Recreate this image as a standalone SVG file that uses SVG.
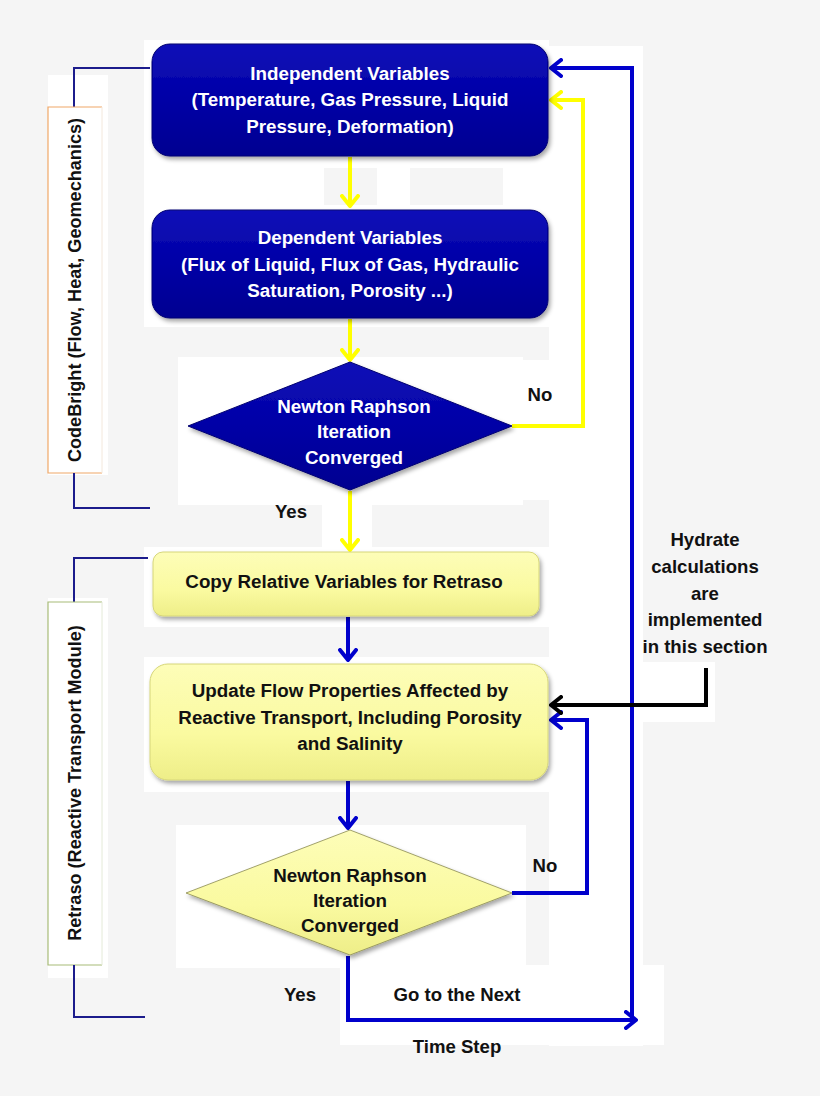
<svg xmlns="http://www.w3.org/2000/svg" width="820" height="1096" viewBox="0 0 820 1096">
  <defs>
    <linearGradient id="gBlue" x1="0" y1="0" x2="0" y2="1">
      <stop offset="0" stop-color="#1010b8"/>
      <stop offset="0.5" stop-color="#0000a6"/>
      <stop offset="1" stop-color="#000090"/>
    </linearGradient>
    <linearGradient id="gYellow" x1="0" y1="0" x2="0" y2="1">
      <stop offset="0" stop-color="#fdfdb8"/>
      <stop offset="0.6" stop-color="#fafaa0"/>
      <stop offset="1" stop-color="#eeee88"/>
    </linearGradient>
    <filter id="shadow" x="-10%" y="-10%" width="120%" height="130%">
      <feDropShadow dx="2" dy="3" stdDeviation="2" flood-color="#000" flood-opacity="0.35"/>
    </filter>
    <marker id="aBlue" viewBox="0 0 14 20" refX="12" refY="10" markerWidth="14" markerHeight="20" markerUnits="userSpaceOnUse" orient="auto">
      <path d="M2,2 L12,10 L2,18" fill="none" stroke="#0000cc" stroke-width="4" stroke-linecap="round" stroke-linejoin="round"/>
    </marker>
    <marker id="aYellow" viewBox="0 0 14 20" refX="12" refY="10" markerWidth="14" markerHeight="20" markerUnits="userSpaceOnUse" orient="auto">
      <path d="M2,2 L12,10 L2,18" fill="none" stroke="#ffff00" stroke-width="4" stroke-linecap="round" stroke-linejoin="round"/>
    </marker>
    <marker id="aBlack" viewBox="0 0 14 20" refX="12" refY="10" markerWidth="14" markerHeight="20" markerUnits="userSpaceOnUse" orient="auto">
      <path d="M2,2 L12,10 L2,18" fill="none" stroke="#000000" stroke-width="4" stroke-linecap="round" stroke-linejoin="round"/>
    </marker>
  </defs>
  <style>
    text { font-family: "Liberation Sans", Arial, sans-serif; font-weight: bold; text-anchor: middle; }
    .w { fill: #ffffff; font-size: 18.8px; }
    .k { fill: #111111; font-size: 18.8px; }
    .lbl { fill: #111111; font-size: 18.6px; }
    .rot { fill: #111111; font-size: 18.1px; }
    .blueBox { fill: url(#gBlue); stroke: #000070; stroke-width: 1; filter: url(#shadow); }
    .yelBox { fill: url(#gYellow); stroke: #d6d67a; stroke-width: 1; filter: url(#shadow); }
    .cb { fill: none; stroke: #0000cc; stroke-width: 4; }
    .cy { fill: none; stroke: #ffff00; stroke-width: 4; }
    .ck { fill: none; stroke: #000000; stroke-width: 4; }
    .brk { fill: none; stroke: #1c1c8c; stroke-width: 2; }
    .bg { fill: #ffffff; }
  </style>

  <rect width="820" height="1096" fill="#f5f5f5"/>
  <g id="background-patches">
    <rect class="bg" x="144" y="40" width="405" height="128"/>
    <rect class="bg" x="144" y="168" width="180" height="40"/>
    <rect class="bg" x="377" y="168" width="33" height="40"/>
    <rect class="bg" x="503" y="168" width="46" height="40"/>
    <rect class="bg" x="144" y="205" width="405" height="122"/>
    <rect class="bg" x="178" y="357" width="345" height="148"/>
    <rect class="bg" x="322" y="500" width="50" height="60"/>
    <rect class="bg" x="144" y="547" width="405" height="80"/>
    <rect class="bg" x="144" y="657" width="410" height="135"/>
    <rect class="bg" x="176" y="825" width="350" height="143"/>
    <rect class="bg" x="340" y="965" width="324" height="80"/>
    <rect class="bg" x="549" y="46" width="94" height="1000"/>
    <rect class="bg" x="523" y="360" width="26" height="140"/>
    <rect class="bg" x="643" y="662" width="72" height="60"/>
    <rect class="bg" x="48" y="75" width="60" height="400"/>
    <rect class="bg" x="48" y="598" width="60" height="380"/>
  </g>

  <g id="group-codebright">
    <path class="brk" d="M150,68 H74 V107"/>
    <path d="M102,107 H48 V473 H102" fill="none" stroke="#f0a868" stroke-width="1.2"/>
    <path d="M102,107 V473" fill="none" stroke="#f3e8dc" stroke-width="1"/>
    <text class="rot" transform="translate(81,290) rotate(-90)">CodeBright (Flow, Heat, Geomechanics)</text>
    <path class="brk" d="M74,473 V508 H150"/>
  </g>

  <g id="group-retraso">
    <path class="brk" d="M148,558 H74 V602"/>
    <path d="M102,602 H48 V965 H102" fill="none" stroke="#a8bc78" stroke-width="1.2"/>
    <path d="M102,602 V965" fill="none" stroke="#e4ead8" stroke-width="1"/>
    <text class="rot" transform="translate(81,783) rotate(-90)">Retraso (Reactive Transport Module)</text>
    <path class="brk" d="M74,965 V1017 H145"/>
  </g>

  <g id="connectors">
    <path class="cy" d="M350,157 V206" marker-end="url(#aYellow)"/>
    <path class="cy" d="M350,319 V360" marker-end="url(#aYellow)"/>
    <path class="cy" d="M350,491 V550" marker-end="url(#aYellow)"/>
    <path class="cy" d="M512,426 H583 V100 H551" marker-end="url(#aYellow)"/>
    <path class="cb" d="M348,617 V660" marker-end="url(#aBlue)"/>
    <path class="cb" d="M348,781 V828" marker-end="url(#aBlue)"/>
    <path class="cb" d="M512,893 H587 V720 H551" marker-end="url(#aBlue)"/>
    <path class="cb" d="M632,1020 V68 H551" marker-end="url(#aBlue)"/>
    <path class="cb" d="M348,956 V1020 H636" marker-end="url(#aBlue)"/>
    <path class="ck" d="M706,668 V705 H551" marker-end="url(#aBlack)"/>
  </g>

  <g id="node-independent">
    <rect class="blueBox" x="152" y="44" width="396" height="112" rx="18"/>
    <text class="w" x="350" y="80">Independent Variables</text>
    <text class="w" x="350" y="106">(Temperature, Gas Pressure, Liquid</text>
    <text class="w" x="350" y="133">Pressure, Deformation)</text>
  </g>

  <g id="node-dependent">
    <rect class="blueBox" x="152" y="210" width="396" height="108" rx="18"/>
    <text class="w" x="350" y="244">Dependent Variables</text>
    <text class="w" x="350" y="271">(Flux of Liquid, Flux of Gas, Hydraulic</text>
    <text class="w" x="350" y="297">Saturation, Porosity ...)</text>
  </g>

  <g id="node-nr1">
    <polygon points="188,426 350,362 512,426 350,490" fill="url(#gBlue)" stroke="#000070" stroke-width="1" filter="url(#shadow)"/>
    <text class="w" x="354" y="413">Newton Raphson</text>
    <text class="w" x="354" y="438">Iteration</text>
    <text class="w" x="354" y="464">Converged</text>
  </g>
  <text class="lbl" x="540" y="401">No</text>
  <text class="lbl" x="291" y="518">Yes</text>

  <g id="node-copy">
    <rect class="yelBox" x="153" y="552" width="386" height="64" rx="10"/>
    <text class="k" x="344" y="588">Copy Relative Variables for Retraso</text>
  </g>

  <g id="node-update">
    <rect class="yelBox" x="150" y="664" width="398" height="116" rx="18"/>
    <text class="k" x="350" y="697">Update Flow Properties Affected by</text>
    <text class="k" x="350" y="724">Reactive Transport, Including Porosity</text>
    <text class="k" x="350" y="750">and Salinity</text>
  </g>

  <g id="node-nr2">
    <polygon points="186,893 350,830 512,893 350,955" fill="url(#gYellow)" stroke="#8a8a50" stroke-width="0.8" filter="url(#shadow)"/>
    <text class="k" x="350" y="882">Newton Raphson</text>
    <text class="k" x="350" y="907">Iteration</text>
    <text class="k" x="350" y="932">Converged</text>
  </g>
  <text class="lbl" x="545" y="872">No</text>
  <text class="lbl" x="300" y="1001">Yes</text>
  <text class="lbl" x="457" y="1001">Go to the Next</text>
  <text class="lbl" x="457" y="1053">Time Step</text>

  <g id="note-hydrate">
    <text class="lbl" x="705" y="546">Hydrate</text>
    <text class="lbl" x="705" y="573">calculations</text>
    <text class="lbl" x="705" y="600">are</text>
    <text class="lbl" x="705" y="626">implemented</text>
    <text class="lbl" x="705" y="653">in this section</text>
  </g>
</svg>
